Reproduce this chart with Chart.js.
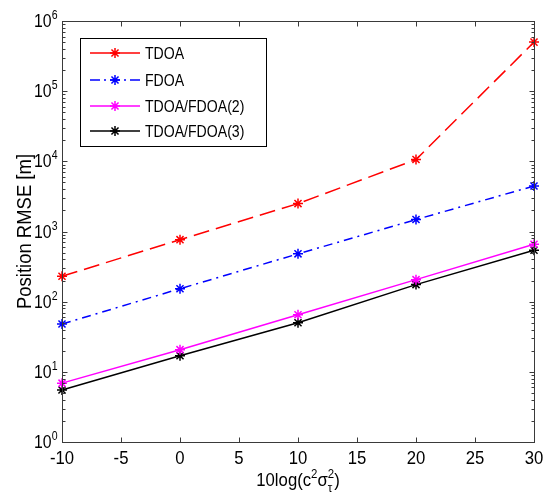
<!DOCTYPE html>
<html>
<head>
<meta charset="utf-8">
<title>Position RMSE</title>
<script src="https://cdn.jsdelivr.net/npm/chart.js@4/dist/chart.umd.min.js"></script>
<style>
    html, body { margin:0; padding:0; background:#fff; }
    canvas { display:block; }
</style>
</head>
<body>
<canvas id="rmseChart" width="548" height="493"></canvas>
<script>
/* ---------------- Data ---------------- */
const xValues = [-10, 0, 10, 20, 30];
const tdoa    = [230, 765, 2500, 10600, 500000];
const fdoa    = [48, 153, 480, 1480, 4450];
const tf2     = [6.9, 20.7, 65, 206, 657];
const tf3     = [5.5, 17, 50, 175, 540];
const seriesNames = ['TDOA', 'FDOA', 'TDOA/FDOA(2)', 'TDOA/FDOA(3)'];
const xTicks = [-10, -5, 0, 5, 10, 15, 20, 25, 30];
const yDecades = [0, 1, 2, 3, 4, 5, 6];

const FONT = '"Liberation Sans", Arial, sans-serif';
const AXIS = '#3a3a3a';

const toPoints = arr => arr.map((v, i) => ({x: xValues[i], y: v}));

/* ---------------- Helpers ---------------- */
function txt(ctx, s, x, y, size, align, sx) {
    ctx.save();
    ctx.font = size + 'px ' + FONT;
    ctx.textAlign = align || 'left';
    ctx.textBaseline = 'alphabetic';
    ctx.translate(x, y);
    ctx.scale(sx || 0.88, 1);
    ctx.fillText(s, 0, 0);
    ctx.restore();
}
function txtWidth(ctx, s, size, sx) {
    ctx.save();
    ctx.font = size + 'px ' + FONT;
    const w = ctx.measureText(s).width * (sx || 0.88);
    ctx.restore();
    return w;
}
function star(ctx, x, y, r, color) {
    ctx.save();
    ctx.strokeStyle = color; ctx.lineWidth = 1.5; ctx.setLineDash([]);
    ctx.beginPath();
    const d = r * Math.SQRT1_2;
    ctx.moveTo(x - r, y); ctx.lineTo(x + r, y);
    ctx.moveTo(x, y - r); ctx.lineTo(x, y + r);
    ctx.moveTo(x - d, y - d); ctx.lineTo(x + d, y + d);
    ctx.moveTo(x - d, y + d); ctx.lineTo(x + d, y - d);
    ctx.stroke();
    ctx.restore();
}

/* ---------------- Axes, labels, legend ---------------- */
const matlabAxes = {
    id: 'matlabAxes',
    afterDraw(chart) {
        const ctx = chart.ctx;
        const a = chart.chartArea;
        const xs = chart.scales.x, ys = chart.scales.y;
        const L = Math.round(a.left) + 0.5, R = Math.round(a.right) + 0.5;
        const T = Math.round(a.top) + 0.5, B = Math.round(a.bottom) + 0.5;

        ctx.save();
        ctx.strokeStyle = AXIS; ctx.lineWidth = 1;
        ctx.strokeRect(L, T, R - L, B - T);

        // x ticks (inward, top and bottom)
        ctx.beginPath();
        xTicks.forEach(v => {
            const px = Math.round(xs.getPixelForValue(v)) + 0.5;
            ctx.moveTo(px, B); ctx.lineTo(px, B - 5);
            ctx.moveTo(px, T); ctx.lineTo(px, T + 5);
        });
        // y ticks: majors and minors
        yDecades.forEach(k => {
            const py = Math.round(ys.getPixelForValue(Math.pow(10, k))) + 0.5;
            ctx.moveTo(L, py); ctx.lineTo(L + 5, py);
            ctx.moveTo(R, py); ctx.lineTo(R - 5, py);
            if (k < yDecades[yDecades.length - 1]) {
                for (let m = 2; m <= 9; m++) {
                    const my = Math.round(ys.getPixelForValue(m * Math.pow(10, k))) + 0.5;
                    ctx.moveTo(L, my); ctx.lineTo(L + 3, my);
                    ctx.moveTo(R, my); ctx.lineTo(R - 3, my);
                }
            }
        });
        ctx.stroke();

        ctx.fillStyle = '#000';
        // x tick labels
        xTicks.forEach(v => {
            txt(ctx, String(v), xs.getPixelForValue(v), B + 21, 19, 'center');
        });
        // y tick labels 10^k
        yDecades.forEach(k => {
            const py = ys.getPixelForValue(Math.pow(10, k));
            const ew = txtWidth(ctx, String(k), 12);
            const right = L - 5;
            txt(ctx, String(k), right, py - 2, 12, 'right');
            txt(ctx, '10', right - ew, py + 6, 18, 'right');
        });

        // x axis title: 10log(c^2 sigma_tau^2)
        const cx = (a.left + a.right) / 2, by = 486;
        const parts = [['10log(c', 19], ['2', 13], ['\u03c3', 19], ['2', 13], [')', 19]];
        let total = 0;
        parts.forEach(p => total += txtWidth(ctx, p[0], p[1]));
        let x = cx - total / 2;
        txt(ctx, parts[0][0], x, by, 19); x += txtWidth(ctx, parts[0][0], 19);
        txt(ctx, '2', x, by - 8, 13); x += txtWidth(ctx, '2', 13);
        txt(ctx, '\u03c3', x, by, 19); x += txtWidth(ctx, '\u03c3', 19);
        txt(ctx, '2', x, by - 8, 13);
        txt(ctx, '\u03c4', x, by + 6, 13); x += txtWidth(ctx, '2', 13);
        txt(ctx, ')', x, by, 19);

        // y axis title
        ctx.save();
        ctx.translate(31, (a.top + a.bottom) / 2);
        ctx.rotate(-Math.PI / 2);
        txt(ctx, 'Position RMSE [m]', 0, 0, 21, 'center');
        ctx.restore();

        // legend
        const bx = 80.5, byTop = 38.5, bw = 186, bh = 108;
        ctx.fillStyle = '#fff';
        ctx.fillRect(bx, byTop, bw, bh);
        ctx.strokeStyle = '#000';
        ctx.strokeRect(bx, byTop, bw, bh);
        const rows = [53, 80, 106, 131];
        chart.data.datasets.forEach((ds, i) => {
            const ry = rows[i];
            ctx.save();
            ctx.strokeStyle = ds.borderColor;
            ctx.lineWidth = 1.5;
            ctx.setLineDash(ds.legendDash || []);
            ctx.beginPath(); ctx.moveTo(90, ry); ctx.lineTo(140, ry); ctx.stroke();
            ctx.restore();
            star(ctx, 115, ry, 5, ds.borderColor);
            ctx.fillStyle = '#000';
            txt(ctx, ds.label, 145, ry + 6, 16);
        });
        ctx.restore();
    }
};

/* ---------------- Chart ---------------- */
const mkSet = (label, data, color, dash, legendDash) => ({
    label, data: toPoints(data),
    borderColor: color, backgroundColor: color,
    borderWidth: 1.5, borderDash: dash, legendDash,
    pointStyle: 'star', pointRadius: 5, pointBorderWidth: 1.5,
    pointBorderColor: color, pointBackgroundColor: color,
    tension: 0, fill: false, clip: false
});

new Chart(document.getElementById('rmseChart').getContext('2d'), {
    type: 'line',
    data: {
        datasets: [
            mkSet(seriesNames[0], tdoa, '#ff0000', [16, 7], []),
            mkSet(seriesNames[1], fdoa, '#0000ff', [9, 5, 2, 5], [10, 4, 2, 4]),
            mkSet(seriesNames[2], tf2, '#ff00ff', [], []),
            mkSet(seriesNames[3], tf3, '#000000', [], [])
        ]
    },
    options: {
        responsive: false,
        devicePixelRatio: 1,
        animation: false,
        layout: { padding: { left: 0, top: 21, right: 14, bottom: 0 } },
        plugins: { legend: { display: false }, tooltip: { enabled: false } },
        scales: {
            x: {
                type: 'linear', min: -10, max: 30,
                ticks: { display: false }, grid: { display: false }, border: { display: false },
                afterFit: s => { s.height = 51; }
            },
            y: {
                type: 'logarithmic', min: 1, max: 1e6,
                ticks: { display: false }, grid: { display: false }, border: { display: false },
                afterFit: s => { s.width = 62; }
            }
        }
    },
    plugins: [matlabAxes]
});
</script>
</body>
</html>
